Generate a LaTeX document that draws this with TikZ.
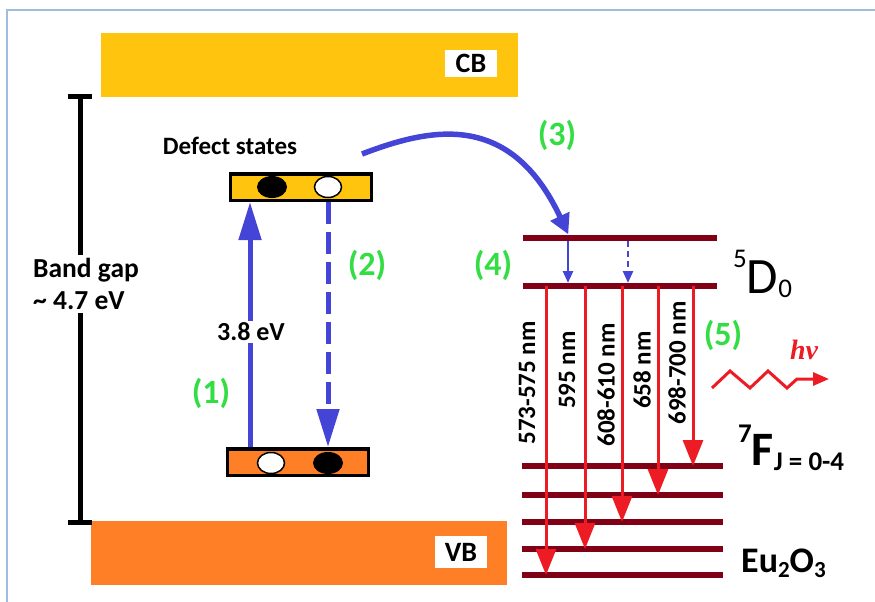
\documentclass[tikz,border=0pt]{standalone}
\usepackage{fontspec}
\setmainfont{Carlito}
\newfontfamily\hvfont{Liberation Serif}
\usetikzlibrary{arrows.meta,shapes.geometric}
\definecolor{cbgold}{RGB}{255,196,13}
\definecolor{vborange}{RGB}{255,127,39}
\definecolor{trblue}{RGB}{68,68,214}
\definecolor{stepgreen}{RGB}{51,221,68}
\definecolor{levelred}{RGB}{128,0,21}
\definecolor{emitred}{RGB}{237,28,36}
\definecolor{framebl}{RGB}{160,188,225}
\newcommand{\fs}[1]{\fontsize{#1}{#1}\selectfont}

\begin{document}
\begin{tikzpicture}[x=1pt, y=-1pt,
    every node/.style={inner sep=0pt, font=\bfseries\fs{25}},
    band/.style={minimum height=64pt},
    tag/.style={fill=white, minimum width=52pt, font=\bfseries\fs{28}},
    defect/.style={draw, line width=3.5pt, minimum width=141pt, minimum height=26.5pt},
    hole/.style={ellipse, draw, line width=1.5pt, fill=white, minimum width=27pt, minimum height=21pt},
    elec/.style={ellipse, fill=black, minimum width=30pt, minimum height=22pt},
    numlabel/.style={text=stepgreen, font=\bfseries\fs{34}},
    pump/.style={trblue, line width=5pt, -{Triangle[length=38pt,width=22pt]}},
    relax/.style={trblue, line width=2.5pt, -{Triangle[length=12pt,width=10pt]}, shorten <=3pt, shorten >=3pt},
    level/.style={levelred, line width=5.5pt},
    emit/.style={emitred, line width=3pt, -{Triangle[length=26pt,width=20pt]}},
    wl/.style={rotate=90, font=\bfseries\fs{25}},
    gapbar/.style={line width=5pt}]
    \useasboundingbox (0,0) rectangle (875,602);
    \draw[framebl, line width=1.5pt] (7,602) -- (7,10) -- (875,10);

    \node[band, fill=cbgold, minimum width=417pt] (cb) at (309.5,65) {};
    \node[tag, minimum height=27pt] (cbtag) at (471,63.5) {CB};
    \node[band, fill=vborange, minimum width=416pt] (vb) at (299,553) {};
    \node[tag, minimum height=32pt] (vbtag) at (461,552) {VB};

    \coordinate (gtop) at (80,96);
    \coordinate (gbot) at (80,522);
    \draw[gapbar] (gtop) -- (gbot);
    \draw[gapbar] ([xshift=-12pt]gtop) -- ([xshift=12pt]gtop);
    \draw[gapbar] ([xshift=-12pt]gbot) -- ([xshift=12pt]gbot);
    \node[fill=white, align=left, inner sep=3pt, font=\bfseries\fontsize{27.5}{32}\selectfont] (gaptxt) at (86,284) {Band gap\\\textasciitilde{} 4.7 eV};

    \node (dstxt) at (230,146) {Defect states};
    \node[defect, fill=cbgold] (dup) at (301,187) {};
    \node[defect, fill=vborange] (dlo) at (298,462) {};
    \node[elec] (eup) at (272,187) {};
    \node[hole] (hup) at (328,187) {};
    \node[hole] (hlo) at (271,463) {};
    \node[elec] (elo) at (328,463) {};

    \draw[pump] ([xshift=-48pt]dlo.north) -- ([xshift=-51pt]dup.south);
    \draw[pump, dash pattern=on 22pt off 8pt] (hup |- dup.south) -- (elo |- dlo.north);
    \node[fill=white, inner sep=2pt, font=\bfseries\fs{26}] (ev) at (251,332) {3.8 eV};
    \node[numlabel] (n1) at (211,393) {(1)};
    \node[numlabel] (n2) at (367,265) {(2)};

    \foreach \n/\y in {d1/238, d0/286}
        \draw[level] (523,\y) coordinate (\n) -- (717,\y);
    \foreach \n/\y in {f4/466, f3/495, f2/522, f1/549, f0/575}
        \draw[level] (522,\y) coordinate (\n) -- (723,\y);

    \coordinate (cstart) at (362,154);
    \draw[trblue, line width=5.5pt, -{Triangle[length=20pt,width=20pt]}, shorten >=4pt]
        (cstart) .. controls (430,128) and (510,110) .. (570,0 |- d1);
    \node[numlabel] (n3) at (557,135) {(3)};
    \node[numlabel] (n4) at (493,265) {(4)};
    \draw[relax] (568,0 |- d1) -- (568,0 |- d0);
    \draw[relax, dash pattern=on 6pt off 4pt] (628,0 |- d1) -- (628,0 |- d0);

    \foreach \x/\t in {546/f0, 585/f1, 622/f2, 658/f3, 693/f4}
        \draw[emit] (\x,0 |- d0) -- (\x,0 |- \t);
    \node[wl] (w1) at (527,383) {573-575 nm};
    \node[wl] (w2) at (567,370) {595 nm};
    \node[wl] (w3) at (606,385) {608-610 nm};
    \node[wl] (w4) at (642,370) {658 nm};
    \node[wl] (w5) at (677,363) {698-700 nm};

    \node[numlabel] (n5) at (723,335) {(5)};
    \node[text=emitred, font=\hvfont\bfseries\itshape\fs{28}] (hv) at (804,350) {hv};
    \coordinate (wave) at (712,388);
    \draw[emitred, line width=3pt, -{Triangle[length=16pt,width=13pt]}]
        (wave) -- ++(18,-17) -- ++(20,17) -- ++(18,-17) -- ++(19,17) -- ++(10,-9) -- (829,379);

    \node[anchor=base west, font=\fs{51}] (dlab) at (733,293) {\raisebox{26pt}{\fs{27}5}D\raisebox{-4pt}{\fs{27}0}};
    \node[anchor=base west, font=\bfseries\fs{48}] (flab) at (738,465) {\raisebox{23pt}{\fs{27}7}F\raisebox{-5pt}{\fs{27}J = 0-4}};
    \node[anchor=base west, font=\bfseries\fs{36}] (eulab) at (741,572) {Eu\raisebox{-5pt}{\fs{23}2}O\raisebox{-5pt}{\fs{23}3}};
\end{tikzpicture}
\end{document}
